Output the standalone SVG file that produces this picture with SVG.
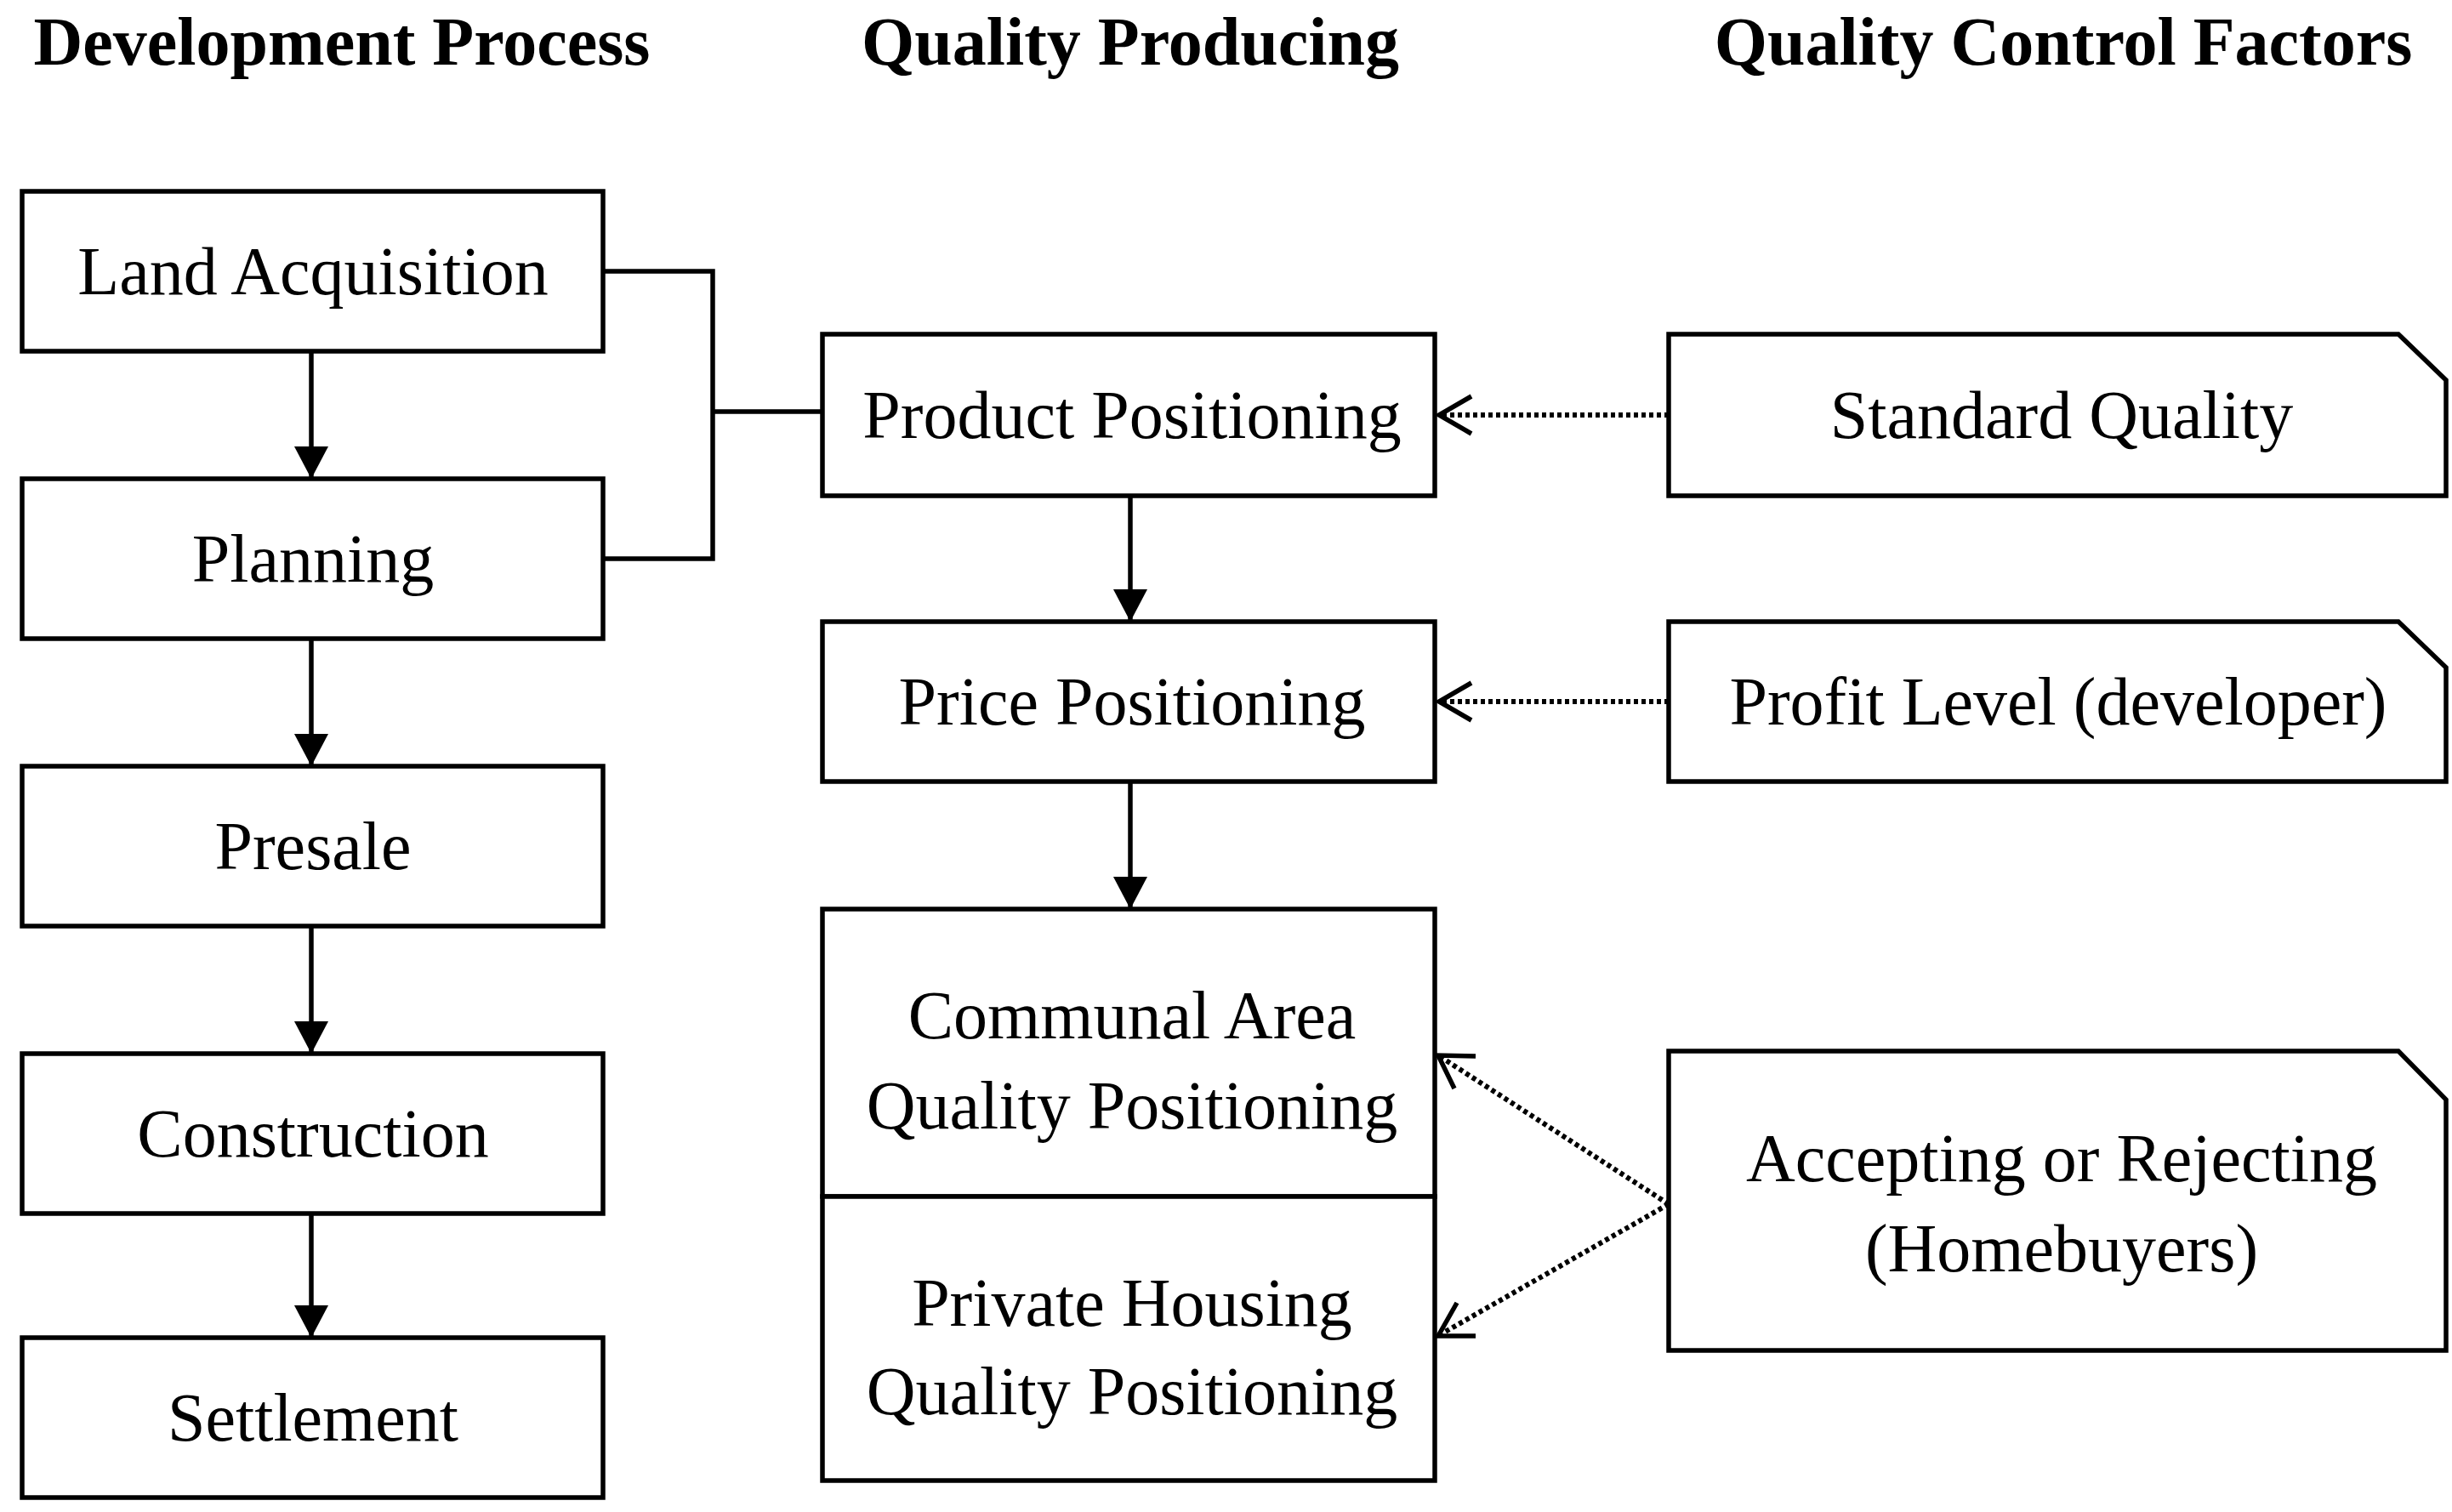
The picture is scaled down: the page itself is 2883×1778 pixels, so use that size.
<svg xmlns="http://www.w3.org/2000/svg" width="2883" height="1778" viewBox="0 0 2883 1778">
<style>
.b{fill:#fff;stroke:#000;stroke-width:5.5}
.t{font-family:"Liberation Serif",serif;font-size:80px;text-anchor:middle;fill:#000}
.h{font-family:"Liberation Serif",serif;font-size:80px;font-weight:bold;text-anchor:middle;fill:#000}
.s{fill:none;stroke:#000;stroke-width:5.5}
.d{fill:none;stroke:#000;stroke-width:6;stroke-dasharray:5 4}
.o{fill:none;stroke:#000;stroke-width:5.5}
</style>
<defs>
<marker id="fa2" viewBox="0 0 40 40" refX="38" refY="20" markerWidth="40" markerHeight="40" orient="auto" markerUnits="userSpaceOnUse"><path d="M38,20 L0,0 L0,40 z" fill="#000"/></marker>
</defs>
<text class="h" x="402" y="76">Development Process</text>
<text class="h" x="1329" y="76">Quality Producing</text>
<text class="h" x="2426" y="76">Quality Control Factors</text>
<g id="connectors">
<polyline class="s" points="709,319 838,319 838,657 709,657"/>
<line class="s" x1="838" y1="484" x2="967" y2="484"/>
<line class="s" x1="366" y1="413" x2="366" y2="563" marker-end="url(#fa2)"/>
<line class="s" x1="366" y1="751" x2="366" y2="901" marker-end="url(#fa2)"/>
<line class="s" x1="366" y1="1089" x2="366" y2="1239" marker-end="url(#fa2)"/>
<line class="s" x1="366" y1="1427" x2="366" y2="1573" marker-end="url(#fa2)"/>
<line class="s" x1="1329" y1="583" x2="1329" y2="731" marker-end="url(#fa2)"/>
<line class="s" x1="1329" y1="919" x2="1329" y2="1069" marker-end="url(#fa2)"/>
<line class="d" x1="1962" y1="488" x2="1694" y2="488"/>
<polyline class="o" points="1730,466 1692,488 1730,510"/>
<line class="d" x1="1962" y1="825" x2="1694" y2="825"/>
<polyline class="o" points="1730,803 1692,825 1730,847"/>
<line class="d" x1="1962" y1="1416" x2="1694" y2="1243"/>
<polyline class="o" points="1710,1280 1691,1241 1735,1242"/>
<line class="d" x1="1962" y1="1416" x2="1694" y2="1569"/>
<polyline class="o" points="1735,1571 1691,1571 1713,1532"/>
</g>
<g id="land"><rect class="b" x="26" y="225" width="683" height="188"/><text class="t" x="368" y="346">Land Acquisition</text></g>
<g id="planning"><rect class="b" x="26" y="563" width="683" height="188"/><text class="t" x="368" y="684">Planning</text></g>
<g id="presale"><rect class="b" x="26" y="901" width="683" height="188"/><text class="t" x="368" y="1022">Presale</text></g>
<g id="construction"><rect class="b" x="26" y="1239" width="683" height="188"/><text class="t" x="368" y="1360">Construction</text></g>
<g id="settlement"><rect class="b" x="26" y="1573" width="683" height="188"/><text class="t" x="368" y="1694">Settlement</text></g>
<g id="product"><rect class="b" x="967" y="393" width="720" height="190"/><text class="t" x="1331" y="515">Product Positioning</text></g>
<g id="price"><rect class="b" x="967" y="731" width="720" height="188"/><text class="t" x="1331" y="852">Price Positioning</text></g>
<g id="communal"><rect class="b" x="967" y="1069" width="720" height="338"/><text class="t" x="1331" y="1221">Communal Area</text><text class="t" x="1331" y="1327">Quality Positioning</text></g>
<g id="private"><rect class="b" x="967" y="1407" width="720" height="334"/><text class="t" x="1331" y="1559">Private Housing</text><text class="t" x="1331" y="1663">Quality Positioning</text></g>
<g id="standard"><path class="b" d="M1962,393 H2820 L2876,447 V583 H1962 Z"/><text class="t" x="2424" y="515">Standard Quality</text></g>
<g id="profit"><path class="b" d="M1962,731 H2820 L2876,785 V919 H1962 Z"/><text class="t" x="2420" y="852">Profit Level (developer)</text></g>
<g id="accepting"><path class="b" d="M1962,1236 H2820 L2876,1293 V1588 H1962 Z"/><text class="t" x="2424" y="1389">Accepting or Rejecting</text><text class="t" x="2424" y="1495">(Homebuyers)</text></g>
</svg>
